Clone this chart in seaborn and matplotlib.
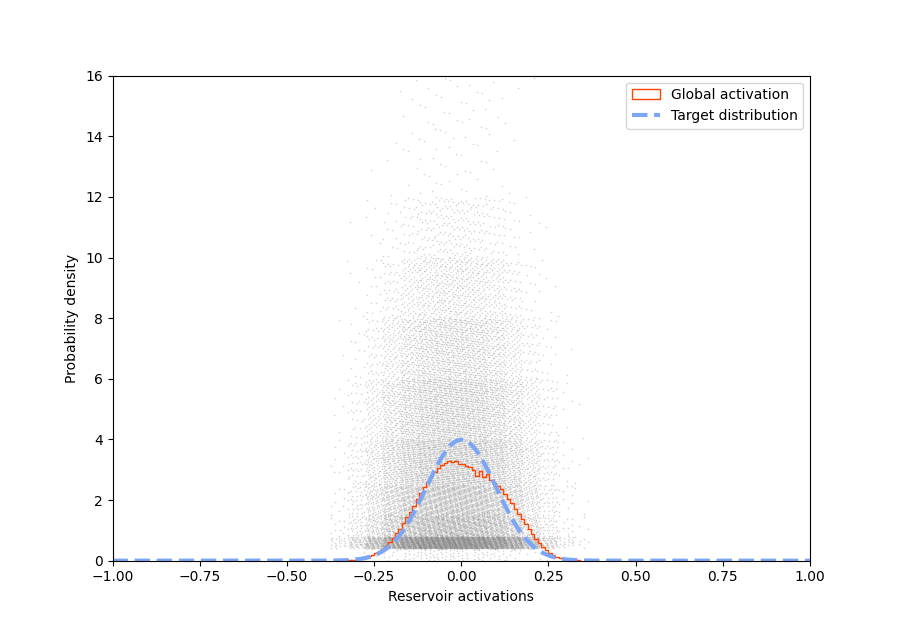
import numpy as np
import seaborn as sns
import matplotlib
matplotlib.use("Agg")
import matplotlib.pyplot as plt
from matplotlib.patches import Patch
from matplotlib.lines import Line2D

# global activation histogram (bin edges, heights), bins of 0.01
hist_edges = [round(-0.33 + 0.01 * i, 2) for i in range(68)]
hist_heights = [0.01, 0.02, 0.03, 0.05, 0.07, 0.1, 0.14, 0.19, 0.25, 0.32,
                0.4, 0.5, 0.62, 0.75, 0.9, 1.06, 1.24, 1.43, 1.62, 1.82,
                2.02, 2.22, 2.42, 2.6, 2.78, 2.93, 3.05, 3.15, 3.22, 3.3,
                3.25, 3.28, 3.2, 3.18, 3.12, 3.08, 3.0, 2.8, 2.95, 2.75,
                2.85, 2.65, 2.55, 2.45, 2.35, 2.2, 2.05, 1.9, 1.72, 1.55,
                1.37, 1.2, 1.03, 0.87, 0.72, 0.58, 0.46, 0.35, 0.26, 0.19,
                0.13, 0.09, 0.06, 0.04, 0.02, 0.01, 0.01]

# target distribution: normal(0, 0.1)
target_mu = 0.0
target_sigma = 0.1

# per-neuron density cloud: estimated point counts per (y band, x column)
cloud_x_edges = [round(-0.375 + 0.05 * i, 3) for i in range(16)]
cloud_y_edges = [0, 0.4, 0.8, 1.5, 2.5, 4, 6, 8, 10, 12, 16]
cloud_counts = [
    [1, 2, 4, 8, 12, 15, 16, 16, 15, 12, 8, 4, 2, 1, 0],
    [20, 60, 140, 230, 300, 340, 350, 350, 340, 300, 230, 140, 60, 20, 6],
    [10, 35, 80, 140, 190, 220, 235, 235, 220, 190, 140, 80, 35, 10, 3],
    [10, 35, 85, 150, 210, 250, 265, 265, 250, 210, 150, 85, 35, 10, 3],
    [10, 40, 100, 180, 260, 310, 330, 330, 310, 260, 180, 100, 40, 10, 3],
    [6, 30, 80, 160, 240, 300, 320, 320, 300, 240, 160, 80, 30, 6, 2],
    [2, 12, 40, 90, 150, 200, 220, 220, 200, 150, 90, 40, 12, 2, 0],
    [1, 4, 15, 40, 75, 105, 120, 120, 105, 75, 40, 15, 4, 1, 0],
    [0, 1, 5, 14, 28, 42, 50, 50, 42, 28, 14, 5, 1, 0, 0],
    [0, 0, 1, 4, 8, 13, 16, 16, 13, 8, 4, 1, 0, 0, 0],
]

# spread each cell's count over the cell with a low-discrepancy sequence
px, py = [], []
g1, g2 = 0.7548776662, 0.5698402910
for r, row in enumerate(cloud_counts):
    y0, y1 = cloud_y_edges[r], cloud_y_edges[r + 1]
    for c, n in enumerate(row):
        x0, x1 = cloud_x_edges[c], cloud_x_edges[c + 1]
        k = np.arange(1, n + 1) + 37 * c + 101 * r
        px.extend(x0 + (x1 - x0) * ((0.5 + g1 * k) % 1))
        py.extend(y0 + (y1 - y0) * ((0.5 + g2 * k) % 1))

fig, ax = plt.subplots(figsize=(9, 6.3), dpi=100)

sns.scatterplot(x=px, y=py, ax=ax, s=3, marker="+", color="dimgray", alpha=0.28,
                linewidth=0.4)

centers = [e + 0.005 for e in hist_edges[:-1]]
sns.histplot(x=centers, weights=hist_heights, bins=hist_edges, element="step",
             fill=False, color="orangered", linewidth=1, ax=ax)

xs = np.linspace(-1, 1, 400)
ys = np.exp(-0.5 * ((xs - target_mu) / target_sigma) ** 2) / (target_sigma * np.sqrt(2 * np.pi))
sns.lineplot(x=xs, y=ys, ax=ax, color="#7aa6f5", linestyle="--", linewidth=3)

ax.set_xlim(-1, 1)
ax.set_ylim(0, 16)
ax.set_xlabel("Reservoir activations")
ax.set_ylabel("Probability density")
handles = [Patch(facecolor="none", edgecolor="orangered", label="Global activation"),
           Line2D([], [], color="#7aa6f5", linestyle="--", linewidth=3,
                  label="Target distribution")]
ax.legend(handles=handles, loc="upper right")

plt.savefig("out.png", dpi=100)
